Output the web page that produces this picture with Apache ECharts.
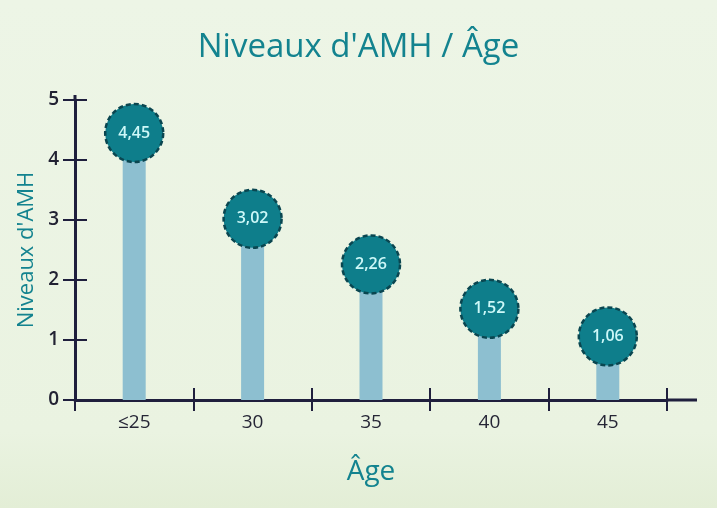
<!DOCTYPE html>
<html>
<head>
<meta charset="utf-8">
<script src="https://cdn.jsdelivr.net/npm/echarts@6/dist/echarts.min.js"></script>
<style>
html,body{margin:0;padding:0;width:717px;height:508px;overflow:hidden;}
#chart{width:717px;height:508px;}
</style>
</head>
<body>
<div id="chart"></div>
<script>
const categories = ['≤25', '30', '35', '40', '45'];
const amhValues = [4.45, 3.02, 2.26, 1.52, 1.06];
const valueLabels = ['4,45', '3,02', '2,26', '1,52', '1,06'];
const yTicks = [0, 1, 2, 3, 4, 5];

const chart = echarts.init(document.getElementById('chart'));
const axisColor = '#1f1f3d';
const teal = '#13838f';
const font = '"Open Sans", "Noto Sans", sans-serif';

const option = {
  backgroundColor: {
    type: 'linear', x: 0, y: 0, x2: 0, y2: 1,
    colorStops: [
      {offset: 0, color: '#edf5e6'},
      {offset: 0.85, color: '#eaf3e1'},
      {offset: 1, color: '#e3eed6'}
    ]
  },
  title: {
    text: "Niveaux d'AMH / Âge",
    left: 'center',
    top: 26,
    textStyle: {color: teal, fontSize: 33, fontWeight: 500, fontFamily: font}
  },
  grid: {left: 75, right: 50, top: 100, bottom: 108, containLabel: false},
  xAxis: [{
    type: 'category',
    data: categories,
    boundaryGap: true,
    axisLine: {show: true, lineStyle: {color: axisColor, width: 3}},
    axisTick: {show: true, length: 11, lineStyle: {color: axisColor, width: 2}},
    axisLabel: {color: '#262636', fontSize: 19, margin: 13, fontFamily: font},
    name: 'Âge',
    nameLocation: 'middle',
    nameGap: 58,
    nameTextStyle: {color: teal, fontSize: 28, fontFamily: font}
  }, {
    type: 'category',
    data: categories,
    position: 'bottom',
    boundaryGap: true,
    axisLine: {show: false},
    axisTick: {show: true, inside: true, length: 12, lineStyle: {color: axisColor, width: 2}},
    axisLabel: {show: false}
  }],
  yAxis: [{
    type: 'value',
    min: yTicks[0],
    max: yTicks[yTicks.length - 1],
    interval: 1,
    splitLine: {show: false},
    axisLine: {show: true, lineStyle: {color: axisColor, width: 3}},
    axisTick: {show: true, length: 12, lineStyle: {color: axisColor, width: 2}},
    axisLabel: {color: '#222233', fontSize: 19, fontWeight: 600, margin: 16, fontFamily: font},
    name: "Niveaux d'AMH",
    nameLocation: 'middle',
    nameGap: 37,
    nameTextStyle: {color: teal, fontSize: 22, fontFamily: font}
  }, {
    type: 'value',
    position: 'left',
    min: yTicks[0],
    max: yTicks[yTicks.length - 1],
    interval: 1,
    splitLine: {show: false},
    axisLine: {show: false},
    axisTick: {show: true, inside: true, length: 12, lineStyle: {color: axisColor, width: 2}},
    axisLabel: {show: false}
  }],
  series: [{
    type: 'bar',
    data: amhValues,
    barWidth: 23,
    itemStyle: {color: '#8dbfd0'},
    z: 2
  }, {
    type: 'scatter',
    data: amhValues,
    symbol: 'circle',
    symbolSize: 58,
    itemStyle: {
      color: '#0e7e8b',
      opacity: 1,
      borderColor: '#0a4650',
      borderWidth: 2.5,
      borderType: [5, 3]
    },
    emphasis: {disabled: true},
    label: {
      show: true,
      position: 'inside',
      formatter: p => valueLabels[p.dataIndex],
      color: '#cdf8f8',
      fontSize: 16,
      fontWeight: 600,
      fontFamily: font
    },
    z: 3
  }]
};
chart.setOption(option);

// extend axis lines slightly beyond the plot, as in the reference
const gridRect = chart.getModel().getComponent('grid').coordinateSystem.getRect();
chart.setOption({
  graphic: [{
    type: 'line',
    shape: {x1: gridRect.x + gridRect.width, y1: gridRect.y + gridRect.height, x2: gridRect.x + gridRect.width + 30, y2: gridRect.y + gridRect.height},
    style: {stroke: axisColor, lineWidth: 3},
    z: 10
  }, {
    type: 'line',
    shape: {x1: gridRect.x, y1: gridRect.y, x2: gridRect.x, y2: gridRect.y - 5},
    style: {stroke: axisColor, lineWidth: 3},
    z: 10
  }]
});
</script>
</body>
</html>
